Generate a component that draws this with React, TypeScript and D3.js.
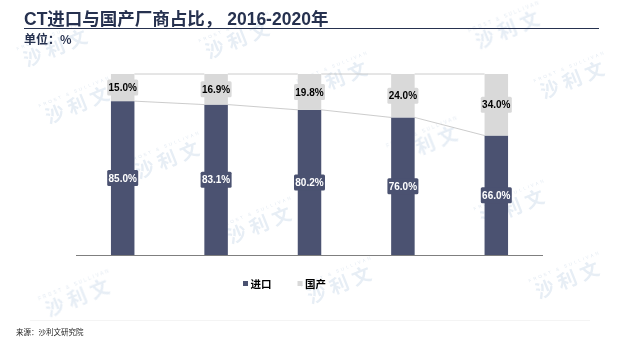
import React from "react";
import * as d3 from "d3";

const years = ["2016", "2017", "2018", "2019", "2020"];
const importShare = [85.0, 83.1, 80.2, 76.0, 66.0];
const domesticShare = [15.0, 16.9, 19.8, 24.0, 34.0];
const seriesNames = ["进口", "国产"];
const title = "CT进口与国产厂商占比， 2016-2020年";
const unitLabel = "单位：%";
const sourceLabel = "来源：沙利文研究院";
const watermarkSpots: [number, number][] = [
  [58, 48], [240, 40], [510, 30], [80, 105], [338, 80], [575, 80],
  [170, 160], [428, 145], [262, 225], [515, 208],
  [80, 298], [342, 285], [570, 280],
];

const W = 624;
const H = 352;
const DARK = "#4B5271";
const LIGHT = "#D9D9D9";
const NAVY = "#26314F";
const FONT = "'Liberation Sans', Arial, 'Noto Sans CJK SC', sans-serif";
const CJK = "'Noto Sans CJK SC', 'Liberation Sans', sans-serif";

export default function App() {
  const x = d3.scaleBand<string>().domain(years).range([76, 543]).padding(0);
  const y = d3.scaleLinear().domain([0, 100]).range([255, 74]);
  const barW = 23.5;
  const cx = (yr: string) => (x(yr) as number) + x.bandwidth() / 2;

  const stacked = d3
    .stack<{ year: string; imp: number; dom: number }>()
    .keys(["imp", "dom"])(
    years.map((yr, i) => ({ year: yr, imp: importShare[i], dom: domesticShare[i] }))
  );

  const fmt = (v: number) => v.toFixed(1) + "%";

  return (
    <svg width={W} height={H} style={{ display: "block", position: "absolute", left: 0, top: 0 }}>
      <rect width={W} height={H} fill="#fff" />
      {/* watermarks */}
      <g opacity={0.35}>
        {watermarkSpots.map(([wx, wy], i) => (
          <g key={i} transform={`translate(${wx},${wy}) rotate(-22)`}>
            <text x={0} y={-13} fontSize={4.5} fill="#A9BFD8" textAnchor="middle" letterSpacing={2.2} fontFamily={FONT}>
              FROST &amp; SULLIVAN
            </text>
            <text x={0} y={6} fontSize={19} fontWeight="bold" fill="#B9CDE3" textAnchor="middle" letterSpacing={5} fontFamily={CJK}>
              沙利文
            </text>
          </g>
        ))}
      </g>

      {/* title */}
      <text x={24} y={24.5} fontSize={17.5} fontWeight="bold" fill={NAVY} fontFamily={FONT}>
        {title}
      </text>
      <line x1={24} x2={599} y1={28.5} y2={28.5} stroke={NAVY} strokeWidth={1.2} />
      <text x={24} y={44} fontSize={12} fontWeight="bold" fill={NAVY} fontFamily={CJK}>
        {unitLabel}
      </text>

      {/* series lines */}
      {stacked.map((s, si) =>
        s.slice(0, -1).map((d, i) => {
          const nx = s[i + 1];
          return (
            <line
              key={`sl-${si}-${i}`}
              x1={cx(years[i]) + barW / 2}
              x2={cx(years[i + 1]) - barW / 2}
              y1={y(d[1])}
              y2={y(nx[1])}
              stroke="#BFBFBF"
              strokeWidth={0.8}
            />
          );
        })
      )}

      {/* bars */}
      {stacked.map((s, si) =>
        s.map((d, i) => (
          <rect
            key={`b-${si}-${i}`}
            x={cx(years[i]) - barW / 2}
            width={barW}
            y={y(d[1])}
            height={y(d[0]) - y(d[1])}
            fill={si === 0 ? DARK : LIGHT}
          />
        ))
      )}

      {/* axis baseline */}
      <line x1={76} x2={543} y1={255.5} y2={255.5} stroke="#7F7F7F" strokeWidth={1} />

      {/* labels */}
      {stacked.map((s, si) =>
        s.map((d, i) => {
          const my = (y(d[0]) + y(d[1])) / 2;
          const val = si === 0 ? importShare[i] : domesticShare[i];
          return (
            <g key={`l-${si}-${i}`}>
              <rect x={cx(years[i]) - 15.5} y={my - 8} width={31} height={16} rx={1.5} fill={si === 0 ? DARK : LIGHT} />
              <text
                x={cx(years[i])}
                y={my + 3.6}
                textAnchor="middle"
                fontSize={10}
                fontWeight="bold"
                fill={si === 0 ? "#fff" : "#000"}
                fontFamily={FONT}
              >
                {fmt(val)}
              </text>
            </g>
          );
        })
      )}

      {/* legend */}
      {seriesNames.map((n, i) => (
        <g key={n} transform={`translate(${243 + i * 54.5},283.5)`}>
          <rect x={0} y={-2.5} width={5} height={5} fill={i === 0 ? DARK : LIGHT} />
          <text x={7.5} y={4} fontSize={10.5} fontWeight="bold" fill="#000" fontFamily={CJK}>
            {n}
          </text>
        </g>
      ))}

      {/* source */}
      <line x1={30} x2={590} y1={320.5} y2={320.5} stroke="#F4F4F4" strokeWidth={1} />
      <text x={16} y={334.5} fontSize={7.5} fill="#222" fontFamily={CJK}>
        {sourceLabel}
      </text>
    </svg>
  );
}
